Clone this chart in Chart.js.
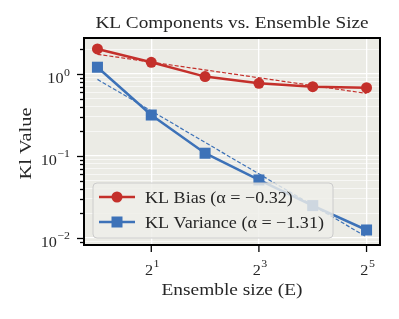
<!DOCTYPE html>
<html><head><meta charset="utf-8">
<script src="https://cdn.jsdelivr.net/npm/chart.js@4.4.1/dist/chart.umd.min.js"></script>
<style>html,body{margin:0;padding:0;background:#fff;}#wrap{width:399px;height:319px;}</style>
</head><body><div id="wrap"><canvas id="c" width="399" height="319"></canvas></div>
<script>
const ensembleSizes = [1, 2, 4, 8, 16, 32];
const klBias = [2.02, 1.39, 0.93, 0.77, 0.70, 0.68];
const klVariance = [1.21, 0.316, 0.108, 0.051, 0.0248, 0.0125];
const fitX = [1, 32];
const biasFit = [1.74, 0.58];
const varianceFit = [0.86, 0.0103];
const seriesNames = ['KL Bias (\u03b1 = \u22120.32)', 'KL Variance (\u03b1 = \u22121.31)'];
const xTickValues = [2, 8, 32];
const xTickBase = ['2', '2', '2'];
const xTickExp = ['1', '3', '5'];
const yTickValues = [1, 0.1, 0.01];
const yTickBase = ['10', '10', '10'];
const yTickExp = ['0', '\u22121', '\u22122'];
const titleText = 'KL Components vs. Ensemble Size';
const xTitle = 'Ensemble size (E)';
const yTitle = 'Kl Value';

const RED = '#C4302B', BLUE = '#3D72B8';
const SERIF = '"Liberation Serif", "DejaVu Serif", serif';
const TXT = '#262626';

const pts = (xs, ys) => xs.map((x, i) => ({x, y: ys[i]}));

const yMinorTicks = [];
for (let e = -3; e <= 0; e++) for (let m = 1; m <= 9; m++) yMinorTicks.push(+(m * Math.pow(10, e)).toPrecision(3));

function stretchText(ctx, text, x, y, align, sx, font) {
  ctx.save();
  ctx.font = font;
  ctx.translate(x, y);
  ctx.scale(sx, 1);
  ctx.textAlign = align;
  ctx.fillText(text, 0, 0);
  ctx.restore();
}
function powLabel(ctx, base, exp, x, yBase, yExp, align, sx) {
  ctx.save();
  ctx.font = '15px ' + SERIF;
  const wb = ctx.measureText(base).width * sx;
  ctx.font = '11px ' + SERIF;
  const we = ctx.measureText(exp).width * sx;
  const total = wb + we + 0.5;
  let left = align === 'right' ? x - total : x - total / 2;
  stretchText(ctx, base, left, yBase, 'left', sx, '15px ' + SERIF);
  stretchText(ctx, exp, left + wb + 0.5, yExp, 'left', sx, '11px ' + SERIF);
  ctx.restore();
}

const decor = {
  id: 'decor',
  beforeDraw(chart) {
    const {ctx, chartArea: a} = chart;
    ctx.save();
    ctx.fillStyle = '#EBEBE5';
    ctx.fillRect(a.left, a.top, a.right - a.left, a.bottom - a.top);
    ctx.restore();
  },
  afterDatasetsDraw(chart) {
    const {ctx} = chart;
    ctx.save();
    const lx = 93, ly = 183, lw = 240, lh = 55;
    ctx.beginPath();
    ctx.roundRect(lx, ly, lw, lh, 4);
    ctx.fillStyle = 'rgba(238,238,233,0.82)';
    ctx.fill();
    ctx.strokeStyle = '#CCCCCC';
    ctx.lineWidth = 1;
    ctx.stroke();
    const rows = [{y: 197, c: RED, s: 'circle'}, {y: 222, c: BLUE, s: 'rect'}];
    rows.forEach((r, i) => {
      ctx.strokeStyle = r.c; ctx.lineWidth = 2.5;
      ctx.beginPath(); ctx.moveTo(99, r.y); ctx.lineTo(135, r.y); ctx.stroke();
      ctx.fillStyle = r.c;
      ctx.beginPath();
      if (r.s === 'circle') ctx.arc(117, r.y, 5.5, 0, Math.PI * 2);
      else ctx.rect(111.5, r.y - 5.5, 11, 11);
      ctx.fill();
      ctx.fillStyle = TXT;
      ctx.textBaseline = 'alphabetic';
      stretchText(ctx, seriesNames[i], 145, r.y + 5.5, 'left', 1.13, '16px ' + SERIF);
    });
    ctx.restore();
  },
  afterDraw(chart) {
    const {ctx, chartArea: a, scales} = chart;
    ctx.save();
    ctx.strokeStyle = '#000'; ctx.lineWidth = 2;
    ctx.strokeRect(a.left, a.top, a.right - a.left, a.bottom - a.top);
    ctx.lineWidth = 1.3;
    ctx.fillStyle = TXT;
    ctx.textBaseline = 'alphabetic';
    const ys = scales.y;
    yMinorTicks.forEach(v => {
      const p = ys.getPixelForValue(v);
      if (p < a.top - 0.5 || p > a.bottom + 0.5) return;
      const idx = yTickValues.findIndex(t => Math.abs(t - v) < 1e-9);
      const len = idx >= 0 ? 7 : 4;
      ctx.beginPath(); ctx.moveTo(a.left - len, Math.round(p) + 0.5); ctx.lineTo(a.left, Math.round(p) + 0.5); ctx.stroke();
      if (idx >= 0) powLabel(ctx, yTickBase[idx], yTickExp[idx], 70, p + 9, p + 1.5, 'right', 1.08);
    });
    const xs = scales.x;
    xTickValues.forEach((v, i) => {
      const p = xs.getPixelForValue(v);
      ctx.beginPath(); ctx.moveTo(p, a.bottom); ctx.lineTo(p, a.bottom + 7); ctx.stroke();
      powLabel(ctx, xTickBase[i], xTickExp[i], p + 1, 275, 267, 'center', 1.08);
    });
    ctx.fillStyle = TXT;
    const cx = (a.left + a.right) / 2;
    stretchText(ctx, titleText, cx, 28, 'center', 1.1, '17.5px ' + SERIF);
    stretchText(ctx, xTitle, cx, 295, 'center', 1.14, '17px ' + SERIF);
    ctx.save();
    ctx.translate(31, (a.top + a.bottom) / 2 + 2);
    ctx.rotate(-Math.PI / 2);
    stretchText(ctx, yTitle, 0, 0, 'center', 1.2, '17px ' + SERIF);
    ctx.restore();
    ctx.restore();
  }
};

new Chart(document.getElementById('c'), {
  type: 'line',
  data: {
    datasets: [
      {label: seriesNames[0], data: pts(ensembleSizes, klBias), borderColor: RED, backgroundColor: RED,
       borderWidth: 2.5, pointStyle: 'circle', pointRadius: 5.5, pointHoverRadius: 5.5, pointBorderWidth: 0, order: 1},
      {label: seriesNames[1], data: pts(ensembleSizes, klVariance), borderColor: BLUE, backgroundColor: BLUE,
       borderWidth: 2.5, pointStyle: 'rect', pointRadius: 7.8, pointHoverRadius: 7.8, pointBorderWidth: 0, order: 1},
      {label: 'bias fit', data: pts(fitX, biasFit), borderColor: RED, borderWidth: 1.2, borderDash: [4, 2],
       pointRadius: 0, order: 0},
      {label: 'variance fit', data: pts(fitX, varianceFit), borderColor: BLUE, borderWidth: 1.2, borderDash: [4, 2],
       pointRadius: 0, order: 0}
    ]
  },
  options: {
    responsive: false,
    animation: false,
    events: [],
    layout: {padding: {left: 0, right: 19, top: 38, bottom: 0}},
    plugins: {legend: {display: false}, title: {display: false}, tooltip: {enabled: false}},
    scales: {
      x: {
        type: 'logarithmic', min: Math.pow(2, -0.25), max: Math.pow(2, 5.25),
        afterBuildTicks: s => { s.ticks = xTickValues.map(v => ({value: v})); },
        afterFit: s => { s.height = 74; },
        border: {display: false},
        grid: {color: '#FFFFFF', lineWidth: 1.3, drawTicks: false},
        ticks: {display: false}
      },
      y: {
        type: 'logarithmic', min: 0.0082, max: 2.75,
        afterBuildTicks: s => { s.ticks = yMinorTicks.filter(v => v >= 0.0082 && v <= 2.75).map(v => ({value: v})); },
        afterFit: s => { s.width = 84; },
        border: {display: false},
        grid: {drawTicks: false,
               color: c => yTickValues.some(t => Math.abs(t - c.tick.value) < 1e-9) ? '#FFFFFF' : 'rgba(255,255,255,0.75)',
               lineWidth: c => yTickValues.some(t => Math.abs(t - c.tick.value) < 1e-9) ? 1.3 : 0.8},
        ticks: {display: false}
      }
    }
  },
  plugins: [decor]
});
</script>
</body></html>
